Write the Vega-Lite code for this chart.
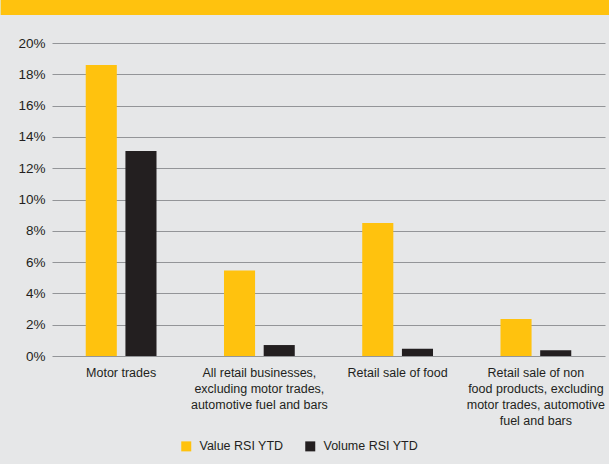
{
  "$schema": "https://vega.github.io/schema/vega-lite/v6.json",
  "padding": {"left": 0, "top": 0, "right": 0, "bottom": 12},
  "background": "#e6e7e8",
  "spacing": 21,
  "config": {"view": {"stroke": null}, "font": "Liberation Sans"},
  "data": {
    "values": [
      {"category": "Motor trades", "series": "Value RSI YTD", "value": 0.186},
      {"category": "Motor trades", "series": "Volume RSI YTD", "value": 0.131},
      {"category": "All retail businesses, excluding motor trades, automotive fuel and bars", "series": "Value RSI YTD", "value": 0.0547},
      {"category": "All retail businesses, excluding motor trades, automotive fuel and bars", "series": "Volume RSI YTD", "value": 0.007},
      {"category": "Retail sale of food", "series": "Value RSI YTD", "value": 0.085},
      {"category": "Retail sale of food", "series": "Volume RSI YTD", "value": 0.0047},
      {"category": "Retail sale of non food products, excluding motor trades, automotive fuel and bars", "series": "Value RSI YTD", "value": 0.0236},
      {"category": "Retail sale of non food products, excluding motor trades, automotive fuel and bars", "series": "Volume RSI YTD", "value": 0.0036}
    ]
  },
  "vconcat": [
    {
      "width": 553,
      "height": 15,
      "mark": {"type": "rect", "color": "#FFC20E", "clip": false},
      "encoding": {
        "x": {"datum": -0.0923, "type": "quantitative", "scale": {"domain": [0, 1]}, "axis": null},
        "x2": {"datum": 1.0091}
      }
    },
    {
      "width": 553,
      "height": 313,
      "mark": {"type": "bar"},
      "encoding": {
        "x": {
          "field": "category",
          "type": "nominal",
          "sort": null,
          "scale": {"paddingInner": 0, "paddingOuter": 0},
          "axis": {
            "title": null,
            "labelAngle": 0,
            "domain": false,
            "ticks": false,
            "labelFontSize": 12.5,
            "labelColor": "#231f20",
            "labelPadding": 10,
            "labelLineHeight": 16,
            "labelOverlap": false,
            "labelLimit": 300,
            "labelBound": false,
            "labelExpr": "datum.value == 'All retail businesses, excluding motor trades, automotive fuel and bars' ? ['All retail businesses,', 'excluding motor trades,', 'automotive fuel and bars'] : datum.value == 'Retail sale of non food products, excluding motor trades, automotive fuel and bars' ? ['Retail sale of non', 'food products, excluding', 'motor trades, automotive', 'fuel and bars'] : datum.value"
          }
        },
        "xOffset": {
          "field": "series",
          "type": "nominal",
          "scale": {"paddingInner": 0.217, "paddingOuter": 0.85}
        },
        "y": {
          "field": "value",
          "type": "quantitative",
          "scale": {"domain": [0, 0.2]},
          "axis": {
            "title": null,
            "values": [0, 0.02, 0.04, 0.06, 0.08, 0.1, 0.12, 0.14, 0.16, 0.18, 0.2],
            "format": ".0%",
            "domain": false,
            "ticks": false,
            "grid": true,
            "gridColor": "#939598",
            "gridWidth": 1,
            "labelFontSize": 13.5,
            "labelColor": "#231f20",
            "labelPadding": 7,
            "minExtent": 51
          }
        },
        "color": {
          "field": "series",
          "type": "nominal",
          "scale": {"domain": ["Value RSI YTD", "Volume RSI YTD"], "range": ["#FFC20E", "#231f20"]},
          "legend": {
            "title": null,
            "orient": "none",
            "direction": "horizontal",
            "legendX": 128,
            "legendY": 440,
            "symbolType": "square",
            "symbolSize": 100,
            "symbolStrokeWidth": 0,
            "labelFontSize": 12.5,
            "labelColor": "#231f20",
            "labelOffset": 7,
            "columnPadding": 20
          }
        }
      }
    }
  ]
}
